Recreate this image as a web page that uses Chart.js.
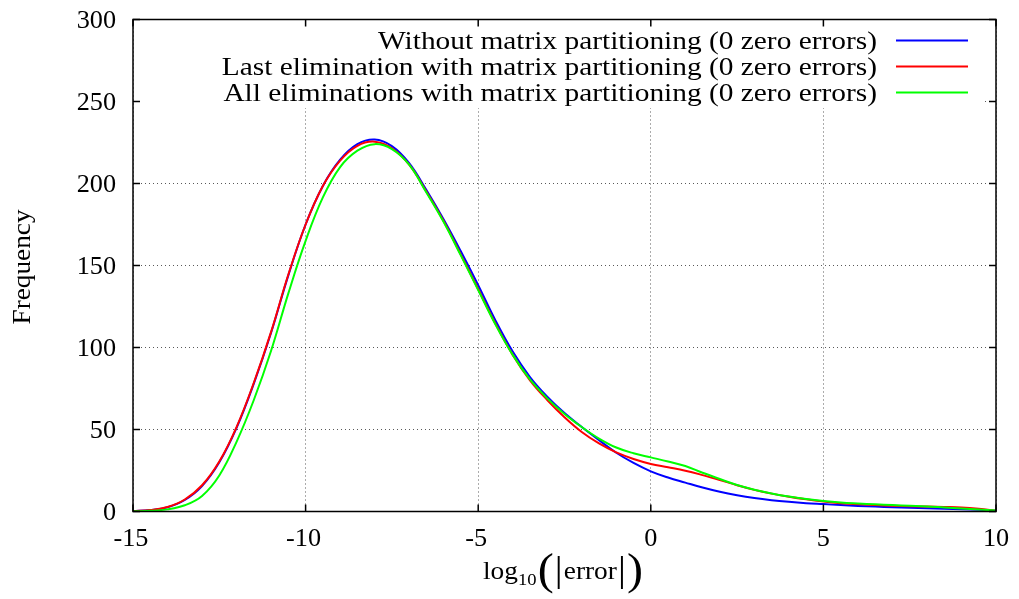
<!DOCTYPE html>
<html>
<head>
<meta charset="utf-8">
<script src="https://cdn.jsdelivr.net/npm/chart.js@4/dist/chart.umd.min.js"></script>
<style>
html,body{margin:0;padding:0;background:#fff;}
#wrap{width:1019px;height:599px;}
</style>
</head>
<body>
<div id="wrap"><canvas id="c" width="1019" height="599"></canvas></div>
<script>
const xValues = [-15,-14.5,-14,-13.5,-13,-12.5,-12,-11.5,-11,-10.5,-10,-9.5,-9,-8.5,-8,-7.5,-7,-6.5,-6,-5.5,-5,-4.5,-4,-3.5,-3,-2.5,-2,-1.5,-1,-0.5,0,0.5,1,1.5,2,2.5,3,3.5,4,4.5,5,5.5,6,6.5,7,7.5,8,8.5,9,9.5,10];
const withoutPartitioning = [0.3,0.9,2.6,7,15.5,30,51,78,109,144,175,198.5,214.5,224,226.8,222.8,212.4,196,178,158.5,138,116.5,97.5,82,70,60,51.5,43.5,35.8,29.6,24.5,20.7,17.6,14.6,12,9.9,8.2,6.9,5.9,5.1,4.5,3.9,3.4,3,2.6,2.3,2,1.7,1.4,1,0.5];
const lastElimination = [0.3,0.9,2.7,7.3,16,30.5,51.5,78.5,109.5,144.5,175,198.5,214,223,225.5,221.5,211.5,195,177,156.5,135.5,114.5,95.5,80,68,57.5,48.5,41.5,36,32,29,27,24.9,22.2,19.2,16,13.2,10.9,9,7.4,6.1,5.1,4.4,3.9,3.5,3.2,3,2.8,2.5,1.7,0.5];
const allEliminations = [0.1,0.4,1.3,3.8,9.5,22,42.5,68,98,133,165,191.5,210,220,224,221,211.5,194.5,176.5,156,135,114,95.5,80.5,69,59.5,51.5,44.5,39,35.5,33,30.5,27.7,23.6,19.8,16.2,13.3,11,9.1,7.6,6.4,5.5,4.9,4.4,3.9,3.5,3.1,2.5,1.9,1.2,0.6];
const seriesLabels = [
  'Without matrix partitioning (0 zero errors)',
  'Last elimination with matrix partitioning (0 zero errors)',
  'All eliminations with matrix partitioning (0 zero errors)'
];
const xTicks = [-15,-10,-5,0,5,10];
const yTicks = [0,50,100,150,200,250,300];
const xTitleParts = ['log', '10', '(', '|', 'error', '|', ')'];
const yTitle = 'Frequency';

const FONT = '"Liberation Serif", "Times New Roman", serif';

function pts(ys){ return xValues.map((x,i)=>({x:x,y:ys[i]})); }

function drawScaled(ctx, text, x, y, sx){
  ctx.save();
  ctx.translate(x, y);
  ctx.scale(sx, 1);
  ctx.fillText(text, 0, 0);
  ctx.restore();
}

const gnuplotPlugin = {
  id: 'gnuplot',
  beforeDatasetsDraw(chart){
    const ctx = chart.ctx, a = chart.chartArea;
    ctx.save();
    ctx.fillStyle = '#fff';
    ctx.fillRect(a.left+1, a.top+1, 982 - a.left, 107 - a.top);
    ctx.restore();
  },
  afterDraw(chart){
    const ctx = chart.ctx, a = chart.chartArea;
    const xs = chart.scales.x, ys = chart.scales.y;
    ctx.save();
    ctx.strokeStyle = '#000';
    ctx.lineWidth = 1.5;
    ctx.strokeRect(a.left, a.top, a.right - a.left, a.bottom - a.top);
    const tl = 7;
    ctx.beginPath();
    xTicks.forEach(v=>{
      const px = xs.getPixelForValue(v);
      ctx.moveTo(px, a.bottom); ctx.lineTo(px, a.bottom - tl);
      ctx.moveTo(px, a.top); ctx.lineTo(px, a.top + tl);
    });
    yTicks.forEach(v=>{
      const py = ys.getPixelForValue(v);
      ctx.moveTo(a.left, py); ctx.lineTo(a.left + tl, py);
      ctx.moveTo(a.right, py); ctx.lineTo(a.right - tl, py);
    });
    ctx.stroke();

    ctx.fillStyle = '#000';
    ctx.textBaseline = 'alphabetic';
    const TSX = 1.05;
    // tick labels
    ctx.font = '25px ' + FONT;
    xTicks.forEach(v=>{
      const px = xs.getPixelForValue(v);
      const t = String(v);
      const w = ctx.measureText(t).width * TSX;
      drawScaled(ctx, t, px - w/2 - (v < 0 ? 2 : 0), 546, TSX);
    });
    yTicks.forEach(v=>{
      const py = ys.getPixelForValue(v);
      const t = String(v);
      const w = ctx.measureText(t).width * TSX;
      drawScaled(ctx, t, 116 - w, py + 8, TSX);
    });

    // legend
    ctx.font = '25px ' + FONT;
    const lsx = 499 / ctx.measureText(chart.data.datasets[0].label).width;
    const rowsY = [49, 75, 101];
    chart.data.datasets.forEach((ds,i)=>{
      const w = ctx.measureText(ds.label).width * lsx;
      drawScaled(ctx, ds.label, 877 - w, rowsY[i], lsx);
      ctx.strokeStyle = ds.borderColor;
      ctx.lineWidth = 2;
      ctx.beginPath();
      ctx.moveTo(896, rowsY[i] - 8.5); ctx.lineTo(968, rowsY[i] - 8.5);
      ctx.stroke();
    });

    // y title
    ctx.save();
    ctx.translate(30, 267);
    ctx.rotate(-Math.PI/2);
    ctx.font = '25px ' + FONT;
    const yw = ctx.measureText(yTitle).width;
    const ysx = 115 / yw;
    drawScaled(ctx, yTitle, -115/2, 0, ysx);
    ctx.restore();

    // x title: log10(|error|)
    const base = 579;
    const fonts = ['25px ', '17px ', '44px ', '36px ', '25px ', '36px ', '44px '];
    const dys = [0, 6, 5, 2, 0, 2, 5];
    const gaps = [0, 0, 1, 1, 1, 1, 1];
    let total = 0;
    const ws = xTitleParts.map((t,i)=>{ ctx.font = fonts[i] + FONT; const w = ctx.measureText(t).width; total += w + gaps[i]; return w; });
    const xsx = 160 / total;
    let cx = 483;
    xTitleParts.forEach((t,i)=>{
      ctx.font = fonts[i] + FONT;
      cx += gaps[i] * xsx;
      drawScaled(ctx, t, cx, base + dys[i], xsx);
      cx += ws[i] * xsx;
    });
    ctx.restore();
  }
};

new Chart(document.getElementById('c'), {
  type: 'line',
  data: {
    datasets: [
      {label: seriesLabels[0], data: pts(withoutPartitioning), borderColor: '#0000ff', order: 2},
      {label: seriesLabels[1], data: pts(lastElimination), borderColor: '#ff0000', order: 1},
      {label: seriesLabels[2], data: pts(allEliminations), borderColor: '#00ff00', order: 0}
    ]
  },
  options: {
    responsive: false,
    animation: false,
    events: [],
    layout: {padding: {top: 19.5, right: 23, left: 0, bottom: 0}},
    elements: {
      line: {borderWidth: 2, tension: 0.4, fill: false},
      point: {radius: 0}
    },
    plugins: {legend: {display: false}, tooltip: {enabled: false}},
    scales: {
      x: {
        type: 'linear', min: -15, max: 10,
        afterBuildTicks(s){ s.ticks = xTicks.map(v=>({value:v})); },
        afterFit(s){ s.height = 87.5; },
        ticks: {display: false},
        grid: {drawTicks: false, color: 'rgba(0,0,0,0.65)', lineWidth: 1},
        border: {display: false, dash: [1, 3]}
      },
      y: {
        min: 0, max: 300,
        afterBuildTicks(s){ s.ticks = yTicks.map(v=>({value:v})); },
        afterFit(s){ s.width = 133; },
        ticks: {display: false},
        grid: {drawTicks: false, color: 'rgba(0,0,0,0.65)', lineWidth: 1},
        border: {display: false, dash: [1, 3]}
      }
    }
  },
  plugins: [gnuplotPlugin]
});
</script>
</body>
</html>
